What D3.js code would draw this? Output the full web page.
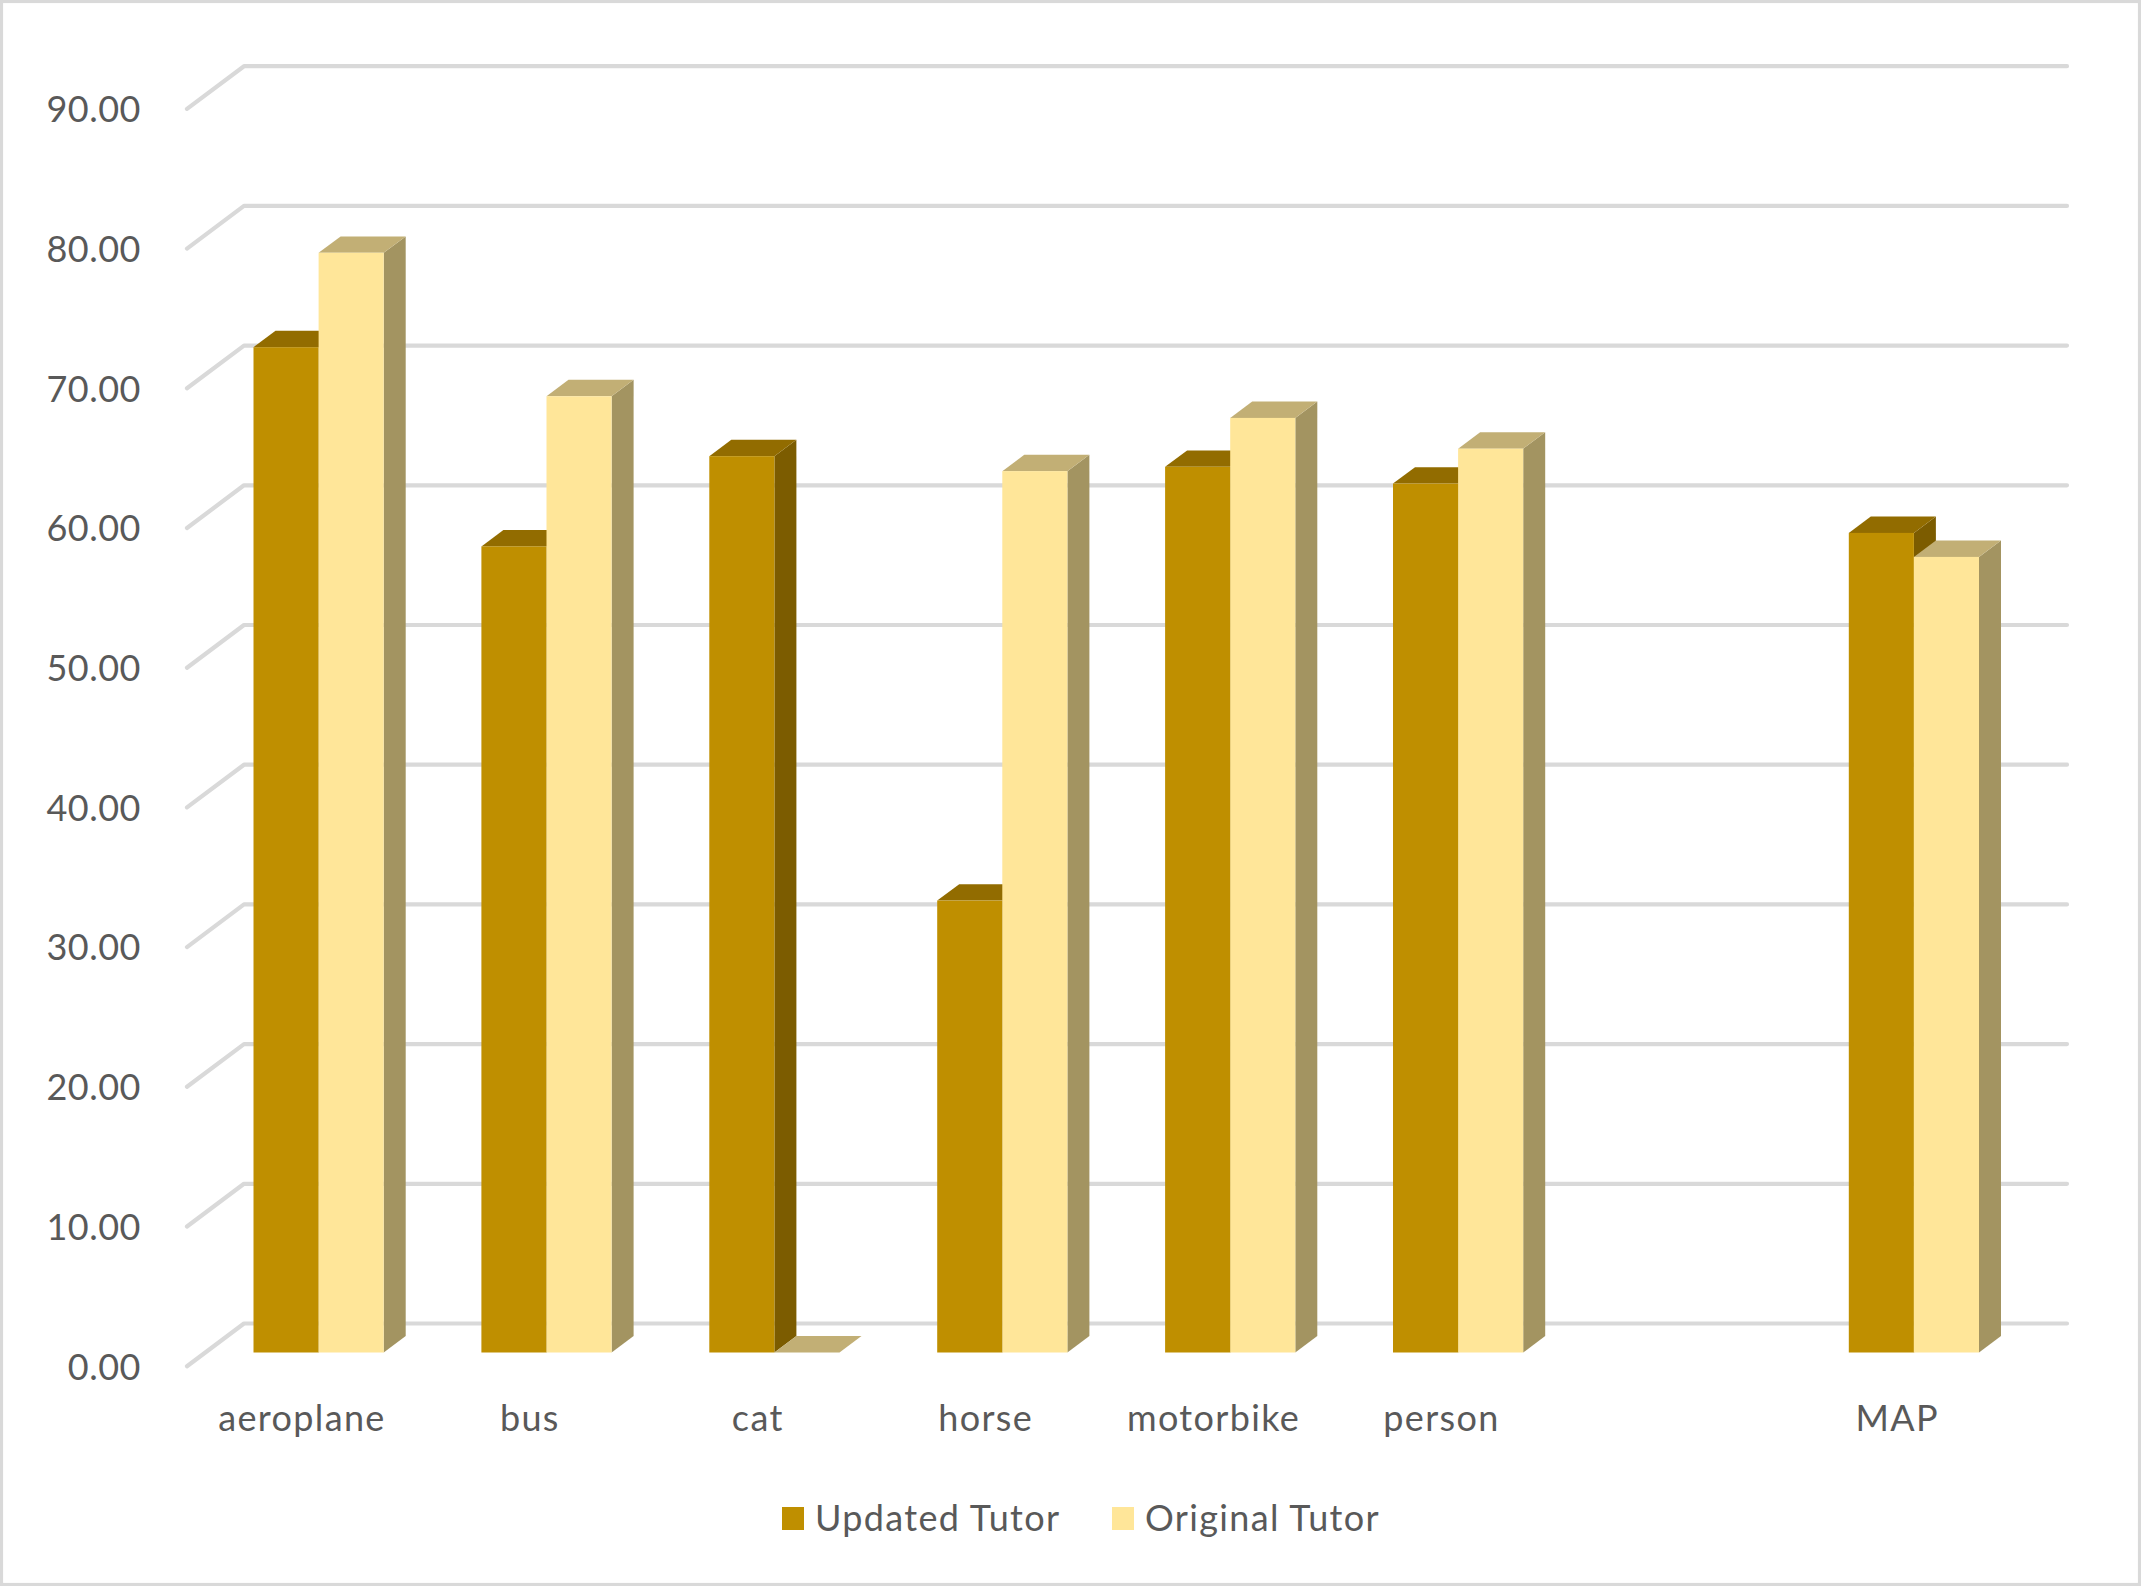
<!DOCTYPE html>
<html><head><meta charset="utf-8">
<script src="https://cdn.jsdelivr.net/npm/d3@7/dist/d3.min.js"></script>
<style>html,body{margin:0;padding:0;background:#fff}svg{display:block}text{font-family:Lato,sans-serif;fill:#595959}</style>
</head><body><svg id="c" width="2141" height="1586"></svg>
<script>
const categories=["aeroplane","bus","cat","horse","motorbike","person","","MAP"];
const updatedTutor=[71.96,57.7,64.16,32.35,63.4,62.2,null,58.67];
const originalTutor=[78.72,68.45,0,63.09,66.9,64.7,null,56.95];
const yTicks=[0,10,20,30,40,50,60,70,80,90];
const seriesNames=["Updated Tutor","Original Tutor"];

const W=2141,H=1586;
const svg=d3.select("#c");
const x=d3.scaleBand().domain(categories).range([188.5,188.5+8*227.9]);
const y=d3.scaleLinear().domain([0,90]).range([1352.5,1352.5-90*13.97]);
const barW=65.1, barPad=65, dx=22, dy=16.4;
const wallDx=57, wallDy=42.7, floorFront=13.7;
const palette=[{front:"#bf8f00",top:"#926c00",side:"#7c5c00"},{front:"#ffe699",top:"#c2af75",side:"#a39461"}];

svg.append("rect").attr("x",1.5).attr("y",1.5).attr("width",W-3).attr("height",H-3).attr("fill","#fff").attr("stroke","#d9d9d9").attr("stroke-width",3.2);

const grid=svg.append("g");
yTicks.forEach(t=>{
  const yf=y(t)+floorFront, xf=187;
  grid.append("path").attr("d",d3.line()([[xf,yf],[xf+wallDx,yf-wallDy],[2067,yf-wallDy]]))
    .attr("fill","none").attr("stroke","#d9d9d9").attr("stroke-width",4.2).attr("stroke-linecap","round").attr("stroke-linejoin","round");
});

const yAxis=svg.append("g").attr("transform","translate(148,0)")
  .call(d3.axisLeft(y).tickValues(yTicks).tickFormat(d3.format(".2f")).tickSize(0));
yAxis.select(".domain").remove();
yAxis.selectAll("text").attr("x",-7).attr("dy",26.5).attr("font-size",36).style("letter-spacing","0.5px").style("font-family","Lato,sans-serif").style("fill","#595959");

const xAxis=svg.append("g").attr("transform","translate(-0.5,1431)")
  .call(d3.axisBottom(x).tickSize(0));
xAxis.select(".domain").remove();
xAxis.selectAll("text").attr("y",0).attr("dy",0).attr("font-size",36).style("letter-spacing","1.35px").style("font-family","Lato,sans-serif").style("fill","#595959");

const bars=svg.append("g");
function box(left,v,c){
  const t=y(v),b=y(0),r=left+barW;
  const poly=(pts,f)=>bars.append("polygon").attr("points",pts.map(p=>p.join(",")).join(" ")).attr("fill",f);
  poly([[r,t],[r+dx,t-dy],[r+dx,b-dy],[r,b]],c.side);
  poly([[left,t],[left+dx,t-dy],[r+dx,t-dy],[r,t]],c.top);
  bars.append("rect").attr("x",left).attr("y",t).attr("width",barW).attr("height",b-t).attr("fill",c.front);
}
categories.forEach((cat,i)=>{
  if(updatedTutor[i]==null) return;
  const l=x(cat)+barPad;
  box(l,updatedTutor[i],palette[0]);
  box(l+barW,originalTutor[i],palette[1]);
});

const legendX=[782,1112];
seriesNames.forEach((n,i)=>{
  svg.append("rect").attr("x",legendX[i]).attr("y",1507).attr("width",22).attr("height",23).attr("fill",palette[i].front);
  svg.append("text").attr("x",legendX[i]+33).attr("y",1531).attr("font-size",36).style("letter-spacing","1.35px").text(n);
});
</script></body></html>
